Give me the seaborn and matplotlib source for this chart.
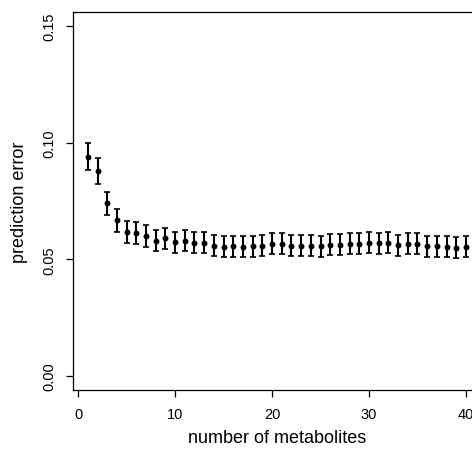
import matplotlib
matplotlib.use("Agg")
import matplotlib.pyplot as plt
import seaborn as sns
import pandas as pd

n_metabolites = list(range(1, 41))
pred_error = [0.0940, 0.0880, 0.0740, 0.0667, 0.0619, 0.0612, 0.0600, 0.0580, 0.0590, 0.0573,
              0.0579, 0.0572, 0.0572, 0.0559, 0.0553, 0.0556, 0.0553, 0.0556, 0.0559, 0.0567,
              0.0566, 0.0559, 0.0559, 0.0559, 0.0556, 0.0562, 0.0562, 0.0566, 0.0567, 0.0572,
              0.0570, 0.0572, 0.0561, 0.0567, 0.0566, 0.0556, 0.0556, 0.0553, 0.0550, 0.0553]
err_half = [0.0058, 0.0055, 0.0049, 0.0048, 0.0047, 0.0047, 0.0047, 0.0046, 0.0046, 0.0046] + [0.0045] * 30
x_ticks = [0, 10, 20, 30, 40]
y_ticks = [0.00, 0.05, 0.10, 0.15]
y_ticklabels = ["0.00", "0.05", "0.10", "0.15"]

df = pd.DataFrame({"n": n_metabolites, "err": pred_error, "se": err_half})

sns.set_theme(style="ticks")
plt.rcParams['font.family'] = ['Liberation Sans', 'DejaVu Sans']
plt.rcParams['text.color'] = 'black'
plt.rcParams['axes.labelcolor'] = 'black'
plt.rcParams['xtick.color'] = 'black'
plt.rcParams['ytick.color'] = 'black'

fig = plt.figure(figsize=(4.72, 4.52), dpi=100)
ax = fig.add_axes([72.7 / 472, 61 / 452, 408.4 / 472, 378 / 452])

ax.errorbar(df["n"], df["err"], yerr=df["se"], fmt="none", ecolor="black",
            elinewidth=1.5, capsize=2.3, capthick=1.2, zorder=2)
sns.scatterplot(data=df, x="n", y="err", ax=ax, color="black", s=18,
                edgecolor="black", linewidth=0, zorder=3)

ax.set_xlim(-0.56, 41.56)
ax.set_ylim(-0.006, 0.156)
ax.set_xticks(x_ticks)
ax.set_xticklabels([str(t) for t in x_ticks], fontsize=10.5)
ax.set_yticks(y_ticks)
ax.set_yticklabels(y_ticklabels, rotation=90, va="center", fontsize=10.5)
ax.tick_params(axis="both", direction="out", length=5, width=0.9, color="black",
               labelcolor="black", pad=7)
for s in ax.spines.values():
    s.set_visible(True)
    s.set_linewidth(0.9)
    s.set_color("black")
ax.set_xlabel("number of metabolites", fontsize=13, labelpad=6, color="black")
ax.set_ylabel("prediction error", fontsize=13, labelpad=10, color="black")

fig.savefig("out.png", dpi=100)
